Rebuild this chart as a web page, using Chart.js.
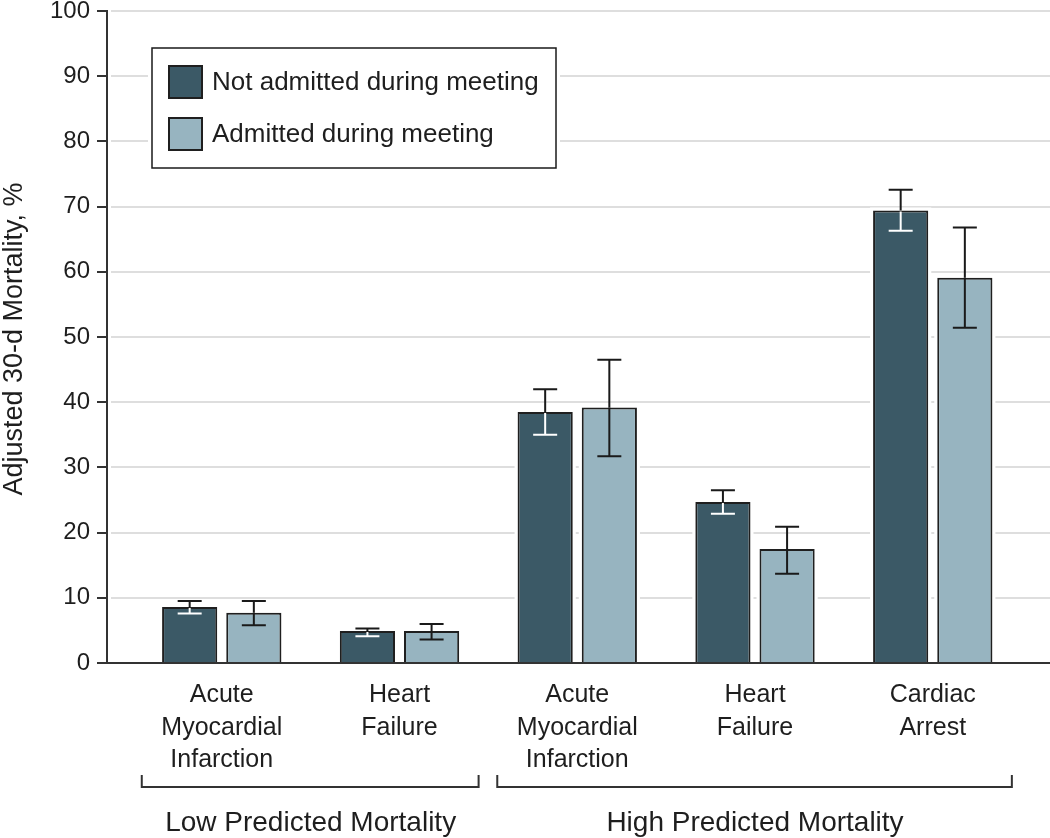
<!DOCTYPE html>
<html>
<head>
<meta charset="utf-8">
<script src="https://cdn.jsdelivr.net/npm/chart.js@4"></script>
<style>
  html, body { margin: 0; padding: 0; background: #fff; }
  #wrap { width: 1050px; height: 838px; position: relative; }
</style>
</head>
<body>
<div id="wrap"><canvas id="c"></canvas></div>
<script>
// ---- Data ----
const categories = [
  ["Acute", "Myocardial", "Infarction"],
  ["Heart", "Failure"],
  ["Acute", "Myocardial", "Infarction"],
  ["Heart", "Failure"],
  ["Cardiac", "Arrest"]
];
const groupLabels = ["Low Predicted Mortality", "High Predicted Mortality"];
const groupOf = [0, 0, 1, 1, 1];
const seriesNames = ["Not admitted during meeting", "Admitted during meeting"];
const notAdmitted     = [8.6, 4.9, 38.5, 24.7, 69.4];
const notAdmittedLow  = [7.6, 4.1, 35.0, 22.9, 66.3];
const notAdmittedHigh = [9.5, 5.3, 42.0, 26.5, 72.6];
const admitted        = [7.7, 4.9, 39.2, 17.5, 59.1];
const admittedLow     = [5.8, 3.6, 31.7, 13.7, 51.4];
const admittedHigh    = [9.5, 6.0, 46.5, 20.9, 66.8];
const yTicks = [0, 10, 20, 30, 40, 50, 60, 70, 80, 90, 100];
const yTitle = "Adjusted 30-d Mortality, %";

const FONT = "'Liberation Sans', Arial, sans-serif";
const DARK = '#3b5966';
const LIGHT = '#97b4c0';
const EDGE = '#1f1f1f';
const AXIS = '#333333';
const TEXT = '#1e1e1e';

const errLow = [notAdmittedLow, admittedLow];
const errHigh = [notAdmittedHigh, admittedHigh];

const toPoints = arr => arr.map((v, i) => ({ x: i, y: v }));

// white halo behind bars (interrupts grid lines like the reference)
const haloPlugin = {
  id: 'halo',
  beforeDatasetsDraw(chart) {
    const ctx = chart.ctx;
    const ca = chart.chartArea;
    ctx.save();
    ctx.fillStyle = '#ffffff';
    ctx.fillRect(ca.left + 1, ca.top - 2, 3, ca.bottom - ca.top);
    chart.data.datasets.forEach((ds, di) => {
      chart.getDatasetMeta(di).data.forEach(el => {
        const w = el.width;
        ctx.fillRect(el.x - w / 2 - 3, el.y - 3, w + 6, el.base - el.y + 2);
      });
    });
    ctx.restore();
  }
};

const errorBarPlugin = {
  id: 'errbars',
  afterDatasetsDraw(chart) {
    const ctx = chart.ctx;
    const ys = chart.scales.y;
    const cap = 12;
    ctx.save();
    ctx.lineWidth = 2;
    ctx.lineCap = 'butt';
    chart.data.datasets.forEach((ds, di) => {
      chart.getDatasetMeta(di).data.forEach((el, j) => {
        const x = el.x;
        const yHi = ys.getPixelForValue(errHigh[di][j]);
        const yLo = ys.getPixelForValue(errLow[di][j]);
        const yBar = el.y;
        ctx.strokeStyle = '#1a1a1a';
        ctx.beginPath();
        ctx.moveTo(x, yHi); ctx.lineTo(x, yBar);
        ctx.moveTo(x - cap, yHi); ctx.lineTo(x + cap, yHi);
        ctx.stroke();
        ctx.strokeStyle = di === 0 ? '#ffffff' : '#1a1a1a';
        ctx.beginPath();
        ctx.moveTo(x, yBar + (di === 0 ? 1 : 0)); ctx.lineTo(x, yLo);
        ctx.moveTo(x - cap, yLo); ctx.lineTo(x + cap, yLo);
        ctx.stroke();
      });
    });
    ctx.restore();
  }
};

const annotatePlugin = {
  id: 'annot',
  afterDraw(chart) {
    const ctx = chart.ctx;
    const xs = chart.scales.x;
    const ca = chart.chartArea;
    ctx.save();

    // Legend box
    const lx = 152, ly = 48, lw = 404, lh = 120;
    ctx.fillStyle = '#ffffff';
    ctx.fillRect(lx - 4, ly - 4, lw + 8, lh + 8);
    ctx.strokeStyle = '#1a1a1a';
    ctx.lineWidth = 1.5;
    ctx.strokeRect(lx, ly, lw, lh);
    const swatches = [DARK, LIGHT];
    const rowY = [82, 134];
    ctx.font = '26px ' + FONT;
    ctx.textBaseline = 'middle';
    ctx.textAlign = 'left';
    swatches.forEach((col, i) => {
      ctx.fillStyle = col;
      ctx.fillRect(169, rowY[i] - 16, 33, 32);
      ctx.strokeStyle = EDGE;
      ctx.lineWidth = 2;
      ctx.strokeRect(169, rowY[i] - 16, 33, 32);
      ctx.fillStyle = TEXT;
      ctx.fillText(seriesNames[i], 212, rowY[i] + 1);
    });

    // Group brackets
    const groups = groupLabels.map((g, gi) => {
      const idx = groupOf.map((v, i) => v === gi ? i : -1).filter(i => i >= 0);
      return { label: g, first: idx[0], last: idx[idx.length - 1] };
    });
    ctx.strokeStyle = AXIS;
    ctx.lineWidth = 2;
    const by = 787, bt = 775;
    ctx.font = '28px ' + FONT;
    ctx.textAlign = 'center';
    ctx.textBaseline = 'middle';
    groups.forEach(g => {
      const x1 = xs.getPixelForValue(g.first - 0.45);
      const x2 = xs.getPixelForValue(g.last + 0.445);
      ctx.beginPath();
      ctx.moveTo(x1, bt); ctx.lineTo(x1, by); ctx.lineTo(x2, by); ctx.lineTo(x2, bt);
      ctx.stroke();
      ctx.fillStyle = TEXT;
      ctx.fillText(g.label, xs.getPixelForValue((g.first + g.last) / 2), 823);
    });

    // Y axis title
    ctx.translate(15, (ca.top + ca.bottom) / 2 + 2);
    ctx.rotate(-Math.PI / 2);
    ctx.font = '27px ' + FONT;
    ctx.fillStyle = TEXT;
    ctx.fillText(yTitle, 0, 0);
    ctx.restore();
  }
};

new Chart(document.getElementById('c'), {
  type: 'bar',
  data: {
    datasets: [
      { label: seriesNames[0], data: toPoints(notAdmitted), backgroundColor: DARK, borderColor: EDGE, borderWidth: 2 },
      { label: seriesNames[1], data: toPoints(admitted), backgroundColor: LIGHT, borderColor: EDGE, borderWidth: 2 }
    ]
  },
  options: {
    responsive: true,
    maintainAspectRatio: false,
    animation: false,
    categoryPercentage: 0.722,
    barPercentage: 0.86,
    layout: { autoPadding: false, padding: { top: 11, left: 0, right: 0, bottom: 0 } },
    plugins: { legend: { display: false }, tooltip: { enabled: false }, title: { display: false } },
    scales: {
      x: {
        type: 'linear',
        offset: false,
        bounds: 'data',
        min: -0.6456,
        max: 4.6596,
        grid: { display: false, drawTicks: false, offset: false },
        border: { display: true, color: AXIS, width: 2 },
        afterBuildTicks: scale => { scale.ticks = categories.map((c, i) => ({ value: i })); },
        afterFit: scale => { scale.height = 175; scale.paddingLeft = 0; scale.paddingRight = 0; },
        ticks: {
          autoSkip: false,
          maxRotation: 0,
          minRotation: 0,
          padding: 16,
          color: TEXT,
          font: { family: FONT, size: 25, lineHeight: 1.3 },
          callback: v => categories[v]
        }
      },
      y: {
        min: 0,
        max: 100,
        afterBuildTicks: scale => { scale.ticks = yTicks.map(v => ({ value: v })); },
        afterFit: scale => { scale.width = 107; scale.paddingTop = 0; scale.paddingBottom = 0; },
        grid: { color: '#dedede', lineWidth: 2, tickColor: AXIS, tickLength: 10, tickWidth: 2, drawTicks: true },
        border: { display: true, color: AXIS, width: 2 },
        ticks: { padding: 7, color: TEXT, font: { family: FONT, size: 24 } }
      }
    }
  },
  plugins: [haloPlugin, errorBarPlugin, annotatePlugin]
});
</script>
</body>
</html>
